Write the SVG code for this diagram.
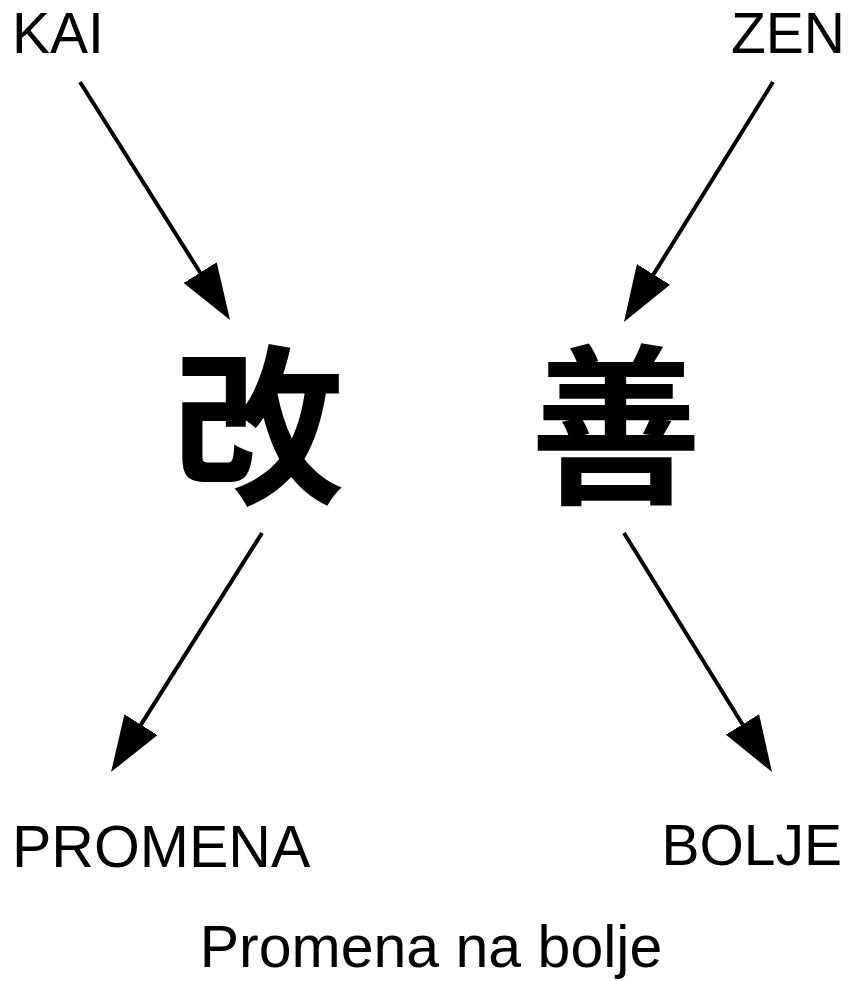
<svg xmlns="http://www.w3.org/2000/svg" width="848" height="981" viewBox="0 0 848 981">
  <style>
    .lbl { font-family: "Liberation Sans", Arial, sans-serif; font-size: 57px; fill: #000; }
    .kanji { font-family: "Noto Sans CJK JP", "Noto Sans CJK SC", sans-serif; font-size: 172px; font-weight: 700; fill: #000; text-anchor: middle; }
    .conn line { stroke: #000; stroke-width: 4; marker-end: url(#head); }
  </style>
  <defs>
    <marker id="head" markerUnits="userSpaceOnUse" viewBox="0 0 56 39" markerWidth="56" markerHeight="39" refX="4" refY="19.5" orient="auto">
      <path d="M0,0 L56,19.5 L0,39 Z" fill="#000"/>
    </marker>
  </defs>
  <rect width="848" height="981" fill="#fff"/>

  <g id="kai-label"><text class="lbl" x="12" y="53">KAI</text></g>
  <g id="zen-label"><text class="lbl" x="845" y="53" text-anchor="end">ZEN</text></g>
  <g id="kai-char"><text class="kanji" x="258" y="490">改</text></g>
  <g id="zen-char"><text class="kanji" x="616" y="490">善</text></g>
  <g id="promena"><text class="lbl" x="12" y="867" style="font-size:59px">PROMENA</text></g>
  <g id="bolje"><text class="lbl" x="842" y="865" text-anchor="end">BOLJE</text></g>
  <g id="caption"><text class="lbl" x="431" y="967" text-anchor="middle" style="font-size:59px">Promena na bolje</text></g>

  <g id="connectors" class="conn">
    <line x1="80" y1="82" x2="202.3" y2="276"/>
    <line x1="773" y1="82" x2="651.4" y2="277.8"/>
    <line x1="262" y1="533" x2="138.8" y2="728.1"/>
    <line x1="624" y1="533" x2="744.6" y2="727.8"/>
  </g>
</svg>
